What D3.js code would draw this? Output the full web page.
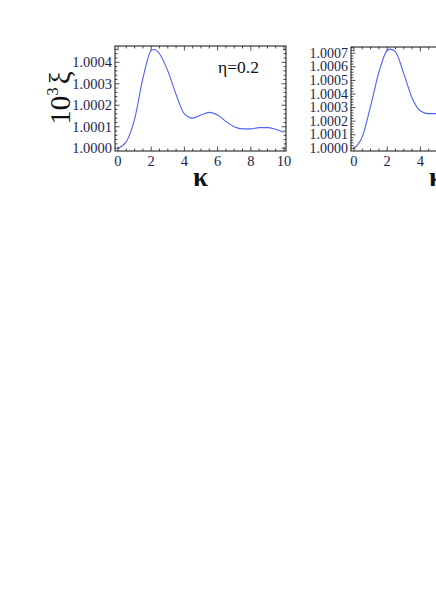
<!DOCTYPE html>
<html>
<head>
<meta charset="utf-8">
<script src="https://cdn.jsdelivr.net/npm/d3@7"></script>
<style>
  body { margin: 0; background: #fff; }
</style>
</head>
<body>
<div id="chart"></div>
<script>
// data (xi values are (xi - 1) * 1e4)
const kappa_left = [0, 0.5, 1, 1.5, 2, 2.2, 2.5, 3, 3.5, 4, 4.5, 5, 5.5, 6, 6.5, 7, 7.5, 8, 8.5, 9, 9.5, 10]
const xi_left    = [0, 0.3, 1.35, 3.25, 4.55, 4.6, 4.4, 3.6, 2.5, 1.6, 1.4, 1.55, 1.67, 1.55, 1.25, 1.0, 0.9, 0.9, 0.96, 0.96, 0.88, 0.74]

const kappa_right = [0, 0.5, 1, 1.5, 2, 2.2, 2.5, 3, 3.5, 4, 4.5, 5, 5.5]
const xi_right    = [0, 0.85, 3.1, 5.6, 7.2, 7.3, 7.1, 5.5, 3.7, 2.75, 2.55, 2.55, 2.6]

const x_ticks = [0, 2, 4, 6, 8, 10]
const y_ticks_left = [0, 1, 2, 3, 4]
const y_ticks_right = [0, 1, 2, 3, 4, 5, 6, 7]
const eta_label = 'η=0.2'

const width = 436, height = 616
const serif = '"Liberation Serif", "Times New Roman", "DejaVu Serif", serif'

var svg = d3.select('#chart')
  .append('svg')
    .attr('width', width)
    .attr('height', height)
    .attr('font-family', serif)

svg.append('rect').attr('width', width).attr('height', height).attr('fill', '#fff')

// one framed mathematica-style panel
function drawPanel(box, yDomain, kappa, xi, yTicks, labelSize) {
  const x = d3.scaleLinear().domain([-0.18, 10.12]).range([box.left, box.right])
  const y = d3.scaleLinear().domain(yDomain).range([box.bottom, box.top])

  const g = svg.append('g')

  // minor + major ticks on all four sides
  const xMinor = d3.range(0, 10.01, 0.5)
  const yMinor = d3.range(0, yDomain[1], 0.2)
  const tickColor = '#222'

  xMinor.forEach(function(v) {
    const len = (v % 2 === 0) ? 4.5 : 2.5
    g.append('line').attr('x1', x(v)).attr('x2', x(v))
      .attr('y1', box.bottom).attr('y2', box.bottom - len)
      .attr('stroke', tickColor).attr('stroke-width', 0.8)
    g.append('line').attr('x1', x(v)).attr('x2', x(v))
      .attr('y1', box.top).attr('y2', box.top + len)
      .attr('stroke', tickColor).attr('stroke-width', 0.8)
  })
  yMinor.forEach(function(v) {
    const major = Math.abs(v - Math.round(v)) < 1e-6
    const len = major ? 4.5 : 2.5
    g.append('line').attr('y1', y(v)).attr('y2', y(v))
      .attr('x1', box.left).attr('x2', box.left + len)
      .attr('stroke', tickColor).attr('stroke-width', 0.8)
    g.append('line').attr('y1', y(v)).attr('y2', y(v))
      .attr('x1', box.right).attr('x2', box.right - len)
      .attr('stroke', tickColor).attr('stroke-width', 0.8)
  })

  // the curve
  const line = d3.line()
    .x(function(d, i) { return x(kappa[i]) })
    .y(function(d) { return y(d) })
    .curve(d3.curveMonotoneX)

  g.append('path')
    .datum(xi)
    .attr('d', line)
    .attr('fill', 'none')
    .attr('stroke', '#5063f2')
    .attr('stroke-width', 1.1)

  // frame
  g.append('rect')
    .attr('x', box.left).attr('y', box.top)
    .attr('width', box.right - box.left).attr('height', box.bottom - box.top)
    .attr('fill', 'none').attr('stroke', '#111').attr('stroke-width', 1)

  // tick labels
  g.selectAll('.xl').data(x_ticks).enter()
    .append('text')
    .attr('x', function(d) { return x(d) })
    .attr('y', box.bottom + 15)
    .attr('text-anchor', 'middle')
    .attr('font-family', serif)
    .attr('font-size', 14.5)
    .attr('fill', '#1e1e50')
    .text(function(d) { return d })

  g.selectAll('.yl').data(yTicks).enter()
    .append('text')
    .attr('x', box.left - 3)
    .attr('y', function(d) { return y(d) + labelSize / 3 })
    .attr('text-anchor', 'end')
    .attr('font-family', serif)
    .attr('font-size', labelSize)
    .attr('fill', '#1e1e50')
    .text(function(d) { return d3.format('.4f')(1 + d * 1e-4) })

  // kappa axis title
  g.append('text')
    .attr('x', (box.left + box.right) / 2)
    .attr('y', box.bottom + 35)
    .attr('text-anchor', 'middle')
    .attr('font-family', serif)
    .attr('font-size', 27)
    .attr('font-weight', 'bold')
    .attr('fill', '#111')
    .text('κ')

  return {x: x, y: y}
}

var left = drawPanel({left: 115, right: 286, top: 46, bottom: 151}, [-0.13, 4.76], kappa_left, xi_left, y_ticks_left, 14.5)
drawPanel({left: 351, right: 522, top: 47, bottom: 151}, [-0.2, 7.46], kappa_right, xi_right, y_ticks_right, 14)

// y axis title, rotated
var ylab = svg.append('text')
  .attr('transform', 'translate(70, 98) rotate(-90)')
  .attr('text-anchor', 'middle')
  .attr('font-family', serif)
  .attr('font-size', 29)
  .attr('fill', '#111')
ylab.append('tspan').text('10')
ylab.append('tspan').attr('font-size', 17).attr('dy', -12).text('3')
ylab.append('tspan').attr('dy', 12).attr('dx', 3).text('ξ')

// eta label inside the left panel
svg.append('text')
  .attr('x', 218)
  .attr('y', 73)
  .attr('font-family', serif)
  .attr('font-size', 17.5)
  .attr('fill', '#111')
  .text(eta_label)
</script>
</body>
</html>
